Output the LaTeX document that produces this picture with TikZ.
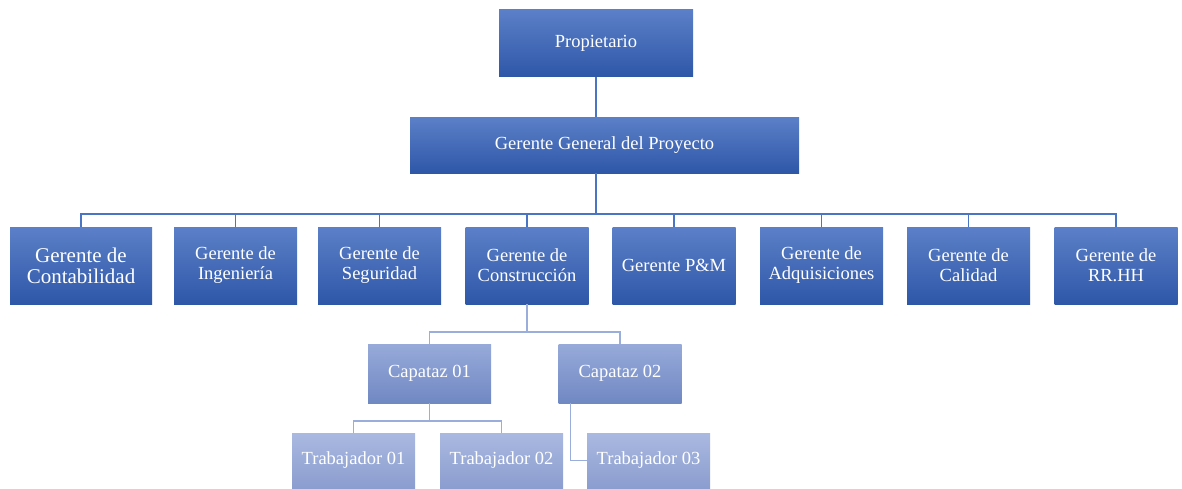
\documentclass[tikz,border=0pt]{standalone}
\usepackage{fontspec}
\setmainfont{Liberation Serif}
\usetikzlibrary{positioning}
\definecolor{darktop}{HTML}{5C80C8}
\definecolor{darkbot}{HTML}{2E57A8}
\definecolor{captop}{HTML}{97AAD9}
\definecolor{capbot}{HTML}{7088C3}
\definecolor{trabtop}{HTML}{AAB9E0}
\definecolor{trabbot}{HTML}{8B9DCF}
\definecolor{linedark}{HTML}{4A74C4}
\definecolor{linelight}{HTML}{9AAEDC}
\tikzset{box/.style={minimum width=123pt, minimum height=77pt, inner sep=2pt, text=white, align=center, font=\fontsize{18.5}{20}\selectfont},
  dark/.style={box, top color=darktop, bottom color=darkbot},
  capbox/.style={box, minimum height=59pt, top color=captop, bottom color=capbot},
  trabbox/.style={box, minimum height=55pt, top color=trabtop, bottom color=trabbot},
  conn/.style={draw=linedark, line width=1.3pt},
  connlight/.style={draw=linelight, line width=1.3pt}}

\begin{document}
\begin{tikzpicture}[x=1pt,y=-1pt]
    \useasboundingbox (0,0) rectangle (1182,488);
    \node[dark, minimum width=194pt, minimum height=67pt] (prop) at (596,43) {Propietario};
    \node[dark, minimum width=389pt, minimum height=56pt] (gg) at (604.5,145) {Gerente General del Proyecto};
    \node[dark, minimum width=142pt, font=\fontsize{21}{21}\selectfont] (cont) at (81,265.5) {Gerente de\\Contabilidad};
    \foreach \name/\x/\txt in {ing/235.5/{Gerente de\\Ingeniería}, seg/379.5/{Gerente de\\Seguridad},
        cons/527/{Gerente de\\Construcción}, pm/674/{Gerente P\&M}, adq/821.5/{Gerente de\\Adquisiciones},
        cal/968.5/{Gerente de\\Calidad}, rrhh/1116/{Gerente de\\RR.HH}}{
        \node[dark] (\name) at (\x,265.5) {\txt};
    }
    \coordinate (bus) at (0,214);
    \draw[conn] (prop.south) -- (prop.south |- gg.north);
    \draw[conn] (prop.south |- gg.south) -- (prop.south |- bus);
    \foreach \name in {cont,ing,seg,cons,pm,adq,cal,rrhh}
        \draw[conn] (prop.south |- bus) -| (\name.north);

    % capataces y trabajadores
    \node[capbox] (cap1) at (429.5,373.5) {Capataz 01};
    \node[capbox] (cap2) at (620,373.5) {Capataz 02};
    \node[trabbox] (trab1) at (353.5,460.5) {Trabajador 01};
    \node[trabbox] (trab2) at (501.5,460.5) {Trabajador 02};
    \node[trabbox] (trab3) at (648.5,460.5) {Trabajador 03};
    \coordinate (buscap) at (0,332);
    \coordinate (bustrab) at (0,421);
    \draw[connlight] (cons.south) -- (cons.south |- buscap);
    \foreach \name in {cap1,cap2}
        \draw[connlight] (cons.south |- buscap) -| (\name.north);
    \draw[connlight] (cap1.south) -- (cap1.south |- bustrab);
    \foreach \name in {trab1,trab2}
        \draw[connlight] (cap1.south |- bustrab) -| (\name.north);
    \draw[connlight] ([xshift=12pt]cap2.south west) |- (trab3.west);
\end{tikzpicture}
\end{document}
